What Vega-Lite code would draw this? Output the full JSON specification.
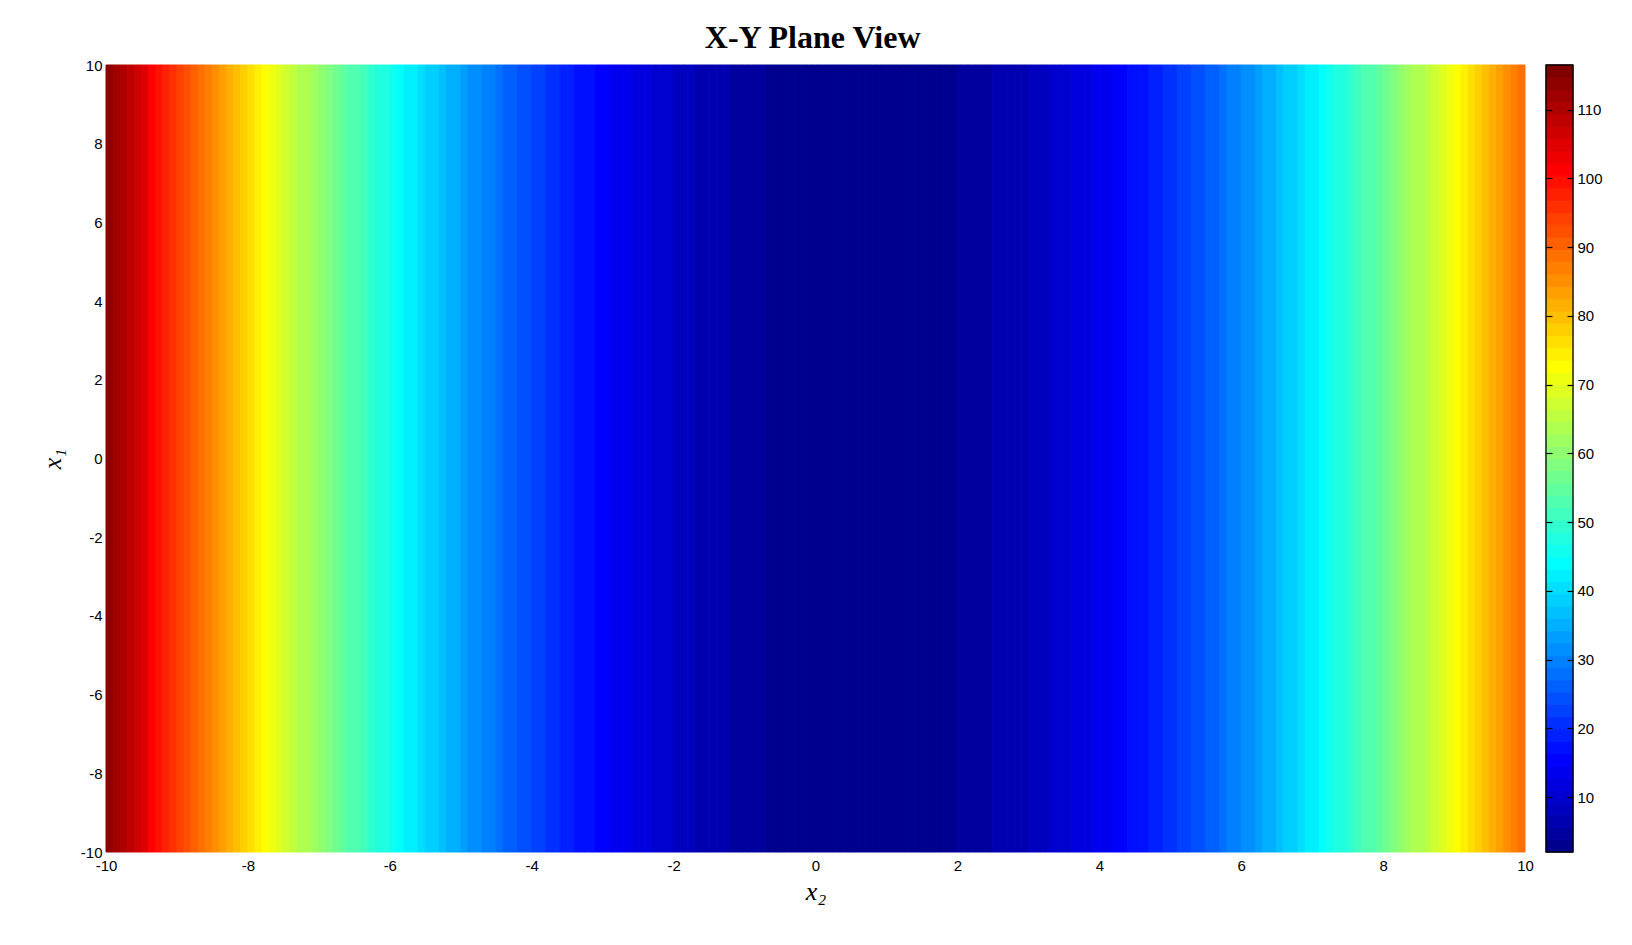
{
"$schema": "https://vega.github.io/schema/vega-lite/v6.json",
"background": "white",
"autosize": {"type": "pad"},
"padding": {"left": 39, "top": 22, "right": 5, "bottom": 5},
"title": {"text": "X-Y Plane View", "font": "Liberation Serif", "fontSize": 32, "fontWeight": "bold", "color": "black", "baseline": "alphabetic", "offset": -22, "anchor": "middle", "frame": "bounds", "dx": -8},
"config": {
  "view": {"stroke": null},
  "axis": {"labelFont": "Liberation Sans", "labelFontSize": 15, "labelColor": "black", "grid": false, "domain": false, "tickColor": "black"}
},
"datasets": {
"field": [
{"a":-10,"b":-9.9,"v":114.36},{"a":-9.9,"b":-9.8,"v":112.25},{"a":-9.8,"b":-9.7,"v":110.16},{"a":-9.7,"b":-9.6,"v":108.09},{"a":-9.6,"b":-9.5,"v":106.04},
{"a":-9.5,"b":-9.4,"v":104.01},{"a":-9.4,"b":-9.3,"v":102.0},{"a":-9.3,"b":-9.2,"v":100.01},{"a":-9.2,"b":-9.1,"v":98.04},{"a":-9.1,"b":-9,"v":96.09},
{"a":-9,"b":-8.9,"v":94.16},{"a":-8.9,"b":-8.8,"v":92.25},{"a":-8.8,"b":-8.7,"v":90.36},{"a":-8.7,"b":-8.6,"v":88.49},{"a":-8.6,"b":-8.5,"v":86.64},
{"a":-8.5,"b":-8.4,"v":84.81},{"a":-8.4,"b":-8.3,"v":83.0},{"a":-8.3,"b":-8.2,"v":81.21},{"a":-8.2,"b":-8.1,"v":79.44},{"a":-8.1,"b":-8,"v":77.69},
{"a":-8,"b":-7.9,"v":75.96},{"a":-7.9,"b":-7.8,"v":74.25},{"a":-7.8,"b":-7.7,"v":72.56},{"a":-7.7,"b":-7.6,"v":70.89},{"a":-7.6,"b":-7.5,"v":69.24},
{"a":-7.5,"b":-7.4,"v":67.61},{"a":-7.4,"b":-7.3,"v":66.0},{"a":-7.3,"b":-7.2,"v":64.41},{"a":-7.2,"b":-7.1,"v":62.84},{"a":-7.1,"b":-7,"v":61.29},
{"a":-7,"b":-6.9,"v":59.76},{"a":-6.9,"b":-6.8,"v":58.25},{"a":-6.8,"b":-6.7,"v":56.76},{"a":-6.7,"b":-6.6,"v":55.29},{"a":-6.6,"b":-6.5,"v":53.84},
{"a":-6.5,"b":-6.4,"v":52.41},{"a":-6.4,"b":-6.3,"v":51.0},{"a":-6.3,"b":-6.2,"v":49.61},{"a":-6.2,"b":-6.1,"v":48.24},{"a":-6.1,"b":-6,"v":46.89},
{"a":-6,"b":-5.9,"v":45.56},{"a":-5.9,"b":-5.8,"v":44.25},{"a":-5.8,"b":-5.7,"v":42.96},{"a":-5.7,"b":-5.6,"v":41.69},{"a":-5.6,"b":-5.5,"v":40.44},
{"a":-5.5,"b":-5.4,"v":39.21},{"a":-5.4,"b":-5.3,"v":38.0},{"a":-5.3,"b":-5.2,"v":36.81},{"a":-5.2,"b":-5.1,"v":35.64},{"a":-5.1,"b":-5,"v":34.49},
{"a":-5,"b":-4.9,"v":33.36},{"a":-4.9,"b":-4.8,"v":32.25},{"a":-4.8,"b":-4.7,"v":31.16},{"a":-4.7,"b":-4.6,"v":30.09},{"a":-4.6,"b":-4.5,"v":29.04},
{"a":-4.5,"b":-4.4,"v":28.01},{"a":-4.4,"b":-4.3,"v":27.0},{"a":-4.3,"b":-4.2,"v":26.01},{"a":-4.2,"b":-4.1,"v":25.04},{"a":-4.1,"b":-4,"v":24.09},
{"a":-4,"b":-3.9,"v":23.16},{"a":-3.9,"b":-3.8,"v":22.25},{"a":-3.8,"b":-3.7,"v":21.36},{"a":-3.7,"b":-3.6,"v":20.49},{"a":-3.6,"b":-3.5,"v":19.64},
{"a":-3.5,"b":-3.4,"v":18.81},{"a":-3.4,"b":-3.3,"v":18.0},{"a":-3.3,"b":-3.2,"v":17.21},{"a":-3.2,"b":-3.1,"v":16.44},{"a":-3.1,"b":-3,"v":15.69},
{"a":-3,"b":-2.9,"v":14.96},{"a":-2.9,"b":-2.8,"v":14.25},{"a":-2.8,"b":-2.7,"v":13.56},{"a":-2.7,"b":-2.6,"v":12.89},{"a":-2.6,"b":-2.5,"v":12.24},
{"a":-2.5,"b":-2.4,"v":11.61},{"a":-2.4,"b":-2.3,"v":11.0},{"a":-2.3,"b":-2.2,"v":10.41},{"a":-2.2,"b":-2.1,"v":9.84},{"a":-2.1,"b":-2,"v":9.29},
{"a":-2,"b":-1.9,"v":8.76},{"a":-1.9,"b":-1.8,"v":8.25},{"a":-1.8,"b":-1.7,"v":7.76},{"a":-1.7,"b":-1.6,"v":7.29},{"a":-1.6,"b":-1.5,"v":6.84},
{"a":-1.5,"b":-1.4,"v":6.41},{"a":-1.4,"b":-1.3,"v":6.0},{"a":-1.3,"b":-1.2,"v":5.61},{"a":-1.2,"b":-1.1,"v":5.24},{"a":-1.1,"b":-1,"v":4.89},
{"a":-1,"b":-0.9,"v":4.56},{"a":-0.9,"b":-0.8,"v":4.25},{"a":-0.8,"b":-0.7,"v":3.96},{"a":-0.7,"b":-0.6,"v":3.69},{"a":-0.6,"b":-0.5,"v":3.44},
{"a":-0.5,"b":-0.4,"v":3.21},{"a":-0.4,"b":-0.3,"v":3.0},{"a":-0.3,"b":-0.2,"v":2.81},{"a":-0.2,"b":-0.1,"v":2.64},{"a":-0.1,"b":0,"v":2.49},
{"a":0,"b":0.1,"v":2.36},{"a":0.1,"b":0.2,"v":2.25},{"a":0.2,"b":0.3,"v":2.16},{"a":0.3,"b":0.4,"v":2.09},{"a":0.4,"b":0.5,"v":2.04},
{"a":0.5,"b":0.6,"v":2.01},{"a":0.6,"b":0.7,"v":2.0},{"a":0.7,"b":0.8,"v":2.01},{"a":0.8,"b":0.9,"v":2.04},{"a":0.9,"b":1,"v":2.09},
{"a":1,"b":1.1,"v":2.16},{"a":1.1,"b":1.2,"v":2.25},{"a":1.2,"b":1.3,"v":2.36},{"a":1.3,"b":1.4,"v":2.49},{"a":1.4,"b":1.5,"v":2.64},
{"a":1.5,"b":1.6,"v":2.81},{"a":1.6,"b":1.7,"v":3.0},{"a":1.7,"b":1.8,"v":3.21},{"a":1.8,"b":1.9,"v":3.44},{"a":1.9,"b":2,"v":3.69},
{"a":2,"b":2.1,"v":3.96},{"a":2.1,"b":2.2,"v":4.25},{"a":2.2,"b":2.3,"v":4.56},{"a":2.3,"b":2.4,"v":4.89},{"a":2.4,"b":2.5,"v":5.24},
{"a":2.5,"b":2.6,"v":5.61},{"a":2.6,"b":2.7,"v":6.0},{"a":2.7,"b":2.8,"v":6.41},{"a":2.8,"b":2.9,"v":6.84},{"a":2.9,"b":3,"v":7.29},
{"a":3,"b":3.1,"v":7.76},{"a":3.1,"b":3.2,"v":8.25},{"a":3.2,"b":3.3,"v":8.76},{"a":3.3,"b":3.4,"v":9.29},{"a":3.4,"b":3.5,"v":9.84},
{"a":3.5,"b":3.6,"v":10.41},{"a":3.6,"b":3.7,"v":11.0},{"a":3.7,"b":3.8,"v":11.61},{"a":3.8,"b":3.9,"v":12.24},{"a":3.9,"b":4,"v":12.89},
{"a":4,"b":4.1,"v":13.56},{"a":4.1,"b":4.2,"v":14.25},{"a":4.2,"b":4.3,"v":14.96},{"a":4.3,"b":4.4,"v":15.69},{"a":4.4,"b":4.5,"v":16.44},
{"a":4.5,"b":4.6,"v":17.21},{"a":4.6,"b":4.7,"v":18.0},{"a":4.7,"b":4.8,"v":18.81},{"a":4.8,"b":4.9,"v":19.64},{"a":4.9,"b":5,"v":20.49},
{"a":5,"b":5.1,"v":21.36},{"a":5.1,"b":5.2,"v":22.25},{"a":5.2,"b":5.3,"v":23.16},{"a":5.3,"b":5.4,"v":24.09},{"a":5.4,"b":5.5,"v":25.04},
{"a":5.5,"b":5.6,"v":26.01},{"a":5.6,"b":5.7,"v":27.0},{"a":5.7,"b":5.8,"v":28.01},{"a":5.8,"b":5.9,"v":29.04},{"a":5.9,"b":6,"v":30.09},
{"a":6,"b":6.1,"v":31.16},{"a":6.1,"b":6.2,"v":32.25},{"a":6.2,"b":6.3,"v":33.36},{"a":6.3,"b":6.4,"v":34.49},{"a":6.4,"b":6.5,"v":35.64},
{"a":6.5,"b":6.6,"v":36.81},{"a":6.6,"b":6.7,"v":38.0},{"a":6.7,"b":6.8,"v":39.21},{"a":6.8,"b":6.9,"v":40.44},{"a":6.9,"b":7,"v":41.69},
{"a":7,"b":7.1,"v":42.96},{"a":7.1,"b":7.2,"v":44.25},{"a":7.2,"b":7.3,"v":45.56},{"a":7.3,"b":7.4,"v":46.89},{"a":7.4,"b":7.5,"v":48.24},
{"a":7.5,"b":7.6,"v":49.61},{"a":7.6,"b":7.7,"v":51.0},{"a":7.7,"b":7.8,"v":52.41},{"a":7.8,"b":7.9,"v":53.84},{"a":7.9,"b":8,"v":55.29},
{"a":8,"b":8.1,"v":56.76},{"a":8.1,"b":8.2,"v":58.25},{"a":8.2,"b":8.3,"v":59.76},{"a":8.3,"b":8.4,"v":61.29},{"a":8.4,"b":8.5,"v":62.84},
{"a":8.5,"b":8.6,"v":64.41},{"a":8.6,"b":8.7,"v":66.0},{"a":8.7,"b":8.8,"v":67.61},{"a":8.8,"b":8.9,"v":69.24},{"a":8.9,"b":9,"v":70.89},
{"a":9,"b":9.1,"v":72.56},{"a":9.1,"b":9.2,"v":74.25},{"a":9.2,"b":9.3,"v":75.96},{"a":9.3,"b":9.4,"v":77.69},{"a":9.4,"b":9.5,"v":79.44},
{"a":9.5,"b":9.6,"v":81.21},{"a":9.6,"b":9.7,"v":83.0},{"a":9.7,"b":9.8,"v":84.81},{"a":9.8,"b":9.9,"v":86.64},{"a":9.9,"b":10,"v":88.49}
],
"cbar": [
{"lo":2,"hi":3.789,"m":2.895},{"lo":3.789,"hi":5.578,"m":4.684},{"lo":5.578,"hi":7.367,"m":6.473},{"lo":7.367,"hi":9.156,"m":8.262},
{"lo":9.156,"hi":10.945,"m":10.051},{"lo":10.945,"hi":12.734,"m":11.84},{"lo":12.734,"hi":14.523,"m":13.629},{"lo":14.523,"hi":16.313,"m":15.418},
{"lo":16.313,"hi":18.102,"m":17.207},{"lo":18.102,"hi":19.891,"m":18.996},{"lo":19.891,"hi":21.68,"m":20.785},{"lo":21.68,"hi":23.469,"m":22.574},
{"lo":23.469,"hi":25.258,"m":24.363},{"lo":25.258,"hi":27.047,"m":26.152},{"lo":27.047,"hi":28.836,"m":27.941},{"lo":28.836,"hi":30.625,"m":29.73},
{"lo":30.625,"hi":32.414,"m":31.52},{"lo":32.414,"hi":34.203,"m":33.309},{"lo":34.203,"hi":35.992,"m":35.098},{"lo":35.992,"hi":37.781,"m":36.887},
{"lo":37.781,"hi":39.57,"m":38.676},{"lo":39.57,"hi":41.359,"m":40.465},{"lo":41.359,"hi":43.148,"m":42.254},{"lo":43.148,"hi":44.938,"m":44.043},
{"lo":44.938,"hi":46.727,"m":45.832},{"lo":46.727,"hi":48.516,"m":47.621},{"lo":48.516,"hi":50.305,"m":49.41},{"lo":50.305,"hi":52.094,"m":51.199},
{"lo":52.094,"hi":53.883,"m":52.988},{"lo":53.883,"hi":55.672,"m":54.777},{"lo":55.672,"hi":57.461,"m":56.566},{"lo":57.461,"hi":59.25,"m":58.355},
{"lo":59.25,"hi":61.039,"m":60.145},{"lo":61.039,"hi":62.828,"m":61.934},{"lo":62.828,"hi":64.617,"m":63.723},{"lo":64.617,"hi":66.406,"m":65.512},
{"lo":66.406,"hi":68.195,"m":67.301},{"lo":68.195,"hi":69.984,"m":69.09},{"lo":69.984,"hi":71.773,"m":70.879},{"lo":71.773,"hi":73.563,"m":72.668},
{"lo":73.563,"hi":75.352,"m":74.457},{"lo":75.352,"hi":77.141,"m":76.246},{"lo":77.141,"hi":78.93,"m":78.035},{"lo":78.93,"hi":80.719,"m":79.824},
{"lo":80.719,"hi":82.508,"m":81.613},{"lo":82.508,"hi":84.297,"m":83.402},{"lo":84.297,"hi":86.086,"m":85.191},{"lo":86.086,"hi":87.875,"m":86.98},
{"lo":87.875,"hi":89.664,"m":88.77},{"lo":89.664,"hi":91.453,"m":90.559},{"lo":91.453,"hi":93.242,"m":92.348},{"lo":93.242,"hi":95.031,"m":94.137},
{"lo":95.031,"hi":96.82,"m":95.926},{"lo":96.82,"hi":98.609,"m":97.715},{"lo":98.609,"hi":100.398,"m":99.504},{"lo":100.398,"hi":102.188,"m":101.293},
{"lo":102.188,"hi":103.977,"m":103.082},{"lo":103.977,"hi":105.766,"m":104.871},{"lo":105.766,"hi":107.555,"m":106.66},{"lo":107.555,"hi":109.344,"m":108.449},
{"lo":109.344,"hi":111.133,"m":110.238},{"lo":111.133,"hi":112.922,"m":112.027},{"lo":112.922,"hi":114.711,"m":113.816},{"lo":114.711,"hi":116.5,"m":115.605}
]
},
"hconcat": [
{
  "width": 1419,
  "height": 787,
  "data": {"name": "field"},
  "mark": {"type": "rect", "strokeWidth": 1},
  "encoding": {
    "x": {"field": "a", "type": "quantitative", "scale": {"domain": [-10, 10], "nice": false, "zero": false},
          "axis": {"values": [-10,-8,-6,-4,-2,0,2,4,6,8,10], "labelExpr": "replace(datum.label, '−', '-')", "ticks": false, "tickSize": 0, "labelPadding": 6, "labelFlush": false, "labelOverlap": false,
                   "title": "x₂", "titleFont": "Liberation Serif", "titleFontStyle": "italic", "titleFontWeight": "normal", "titleFontSize": 26, "titleColor": "black", "titlePadding": 5}},
    "x2": {"field": "b"},
    "y": {"datum": -10, "type": "quantitative", "scale": {"domain": [-10, 10], "nice": false, "zero": false},
          "axis": {"values": [-10,-8,-6,-4,-2,0,2,4,6,8,10], "labelExpr": "replace(datum.label, '−', '-')", "ticks": false, "tickSize": 0, "labelPadding": 4, "labelFlush": false, "labelOverlap": false,
                   "title": "x₁", "titleFont": "Liberation Serif", "titleFontStyle": "italic", "titleFontWeight": "normal", "titleFontSize": 26, "titleColor": "black", "titlePadding": 15}},
    "y2": {"datum": 10},
    "color": {"field": "v", "type": "quantitative", "legend": null,
              "scale": {"type": "quantize", "domain": [2, 116.5], "nice": false, "zero": false,
                        "range": ["#00008F","#00009F","#0000AF","#0000BF","#0000CF","#0000DF","#0000EF","#0000FF","#0010FF","#0020FF","#0030FF","#0040FF","#0050FF","#0060FF","#0070FF","#0080FF","#008FFF","#009FFF","#00AFFF","#00BFFF","#00CFFF","#00DFFF","#00EFFF","#00FFFF","#10FFEF","#20FFDF","#30FFCF","#40FFBF","#50FFAF","#60FF9F","#70FF8F","#80FF80","#8FFF70","#9FFF60","#AFFF50","#BFFF40","#CFFF30","#DFFF20","#EFFF10","#FFFF00","#FFEF00","#FFDF00","#FFCF00","#FFBF00","#FFAF00","#FF9F00","#FF8F00","#FF8000","#FF7000","#FF6000","#FF5000","#FF4000","#FF3000","#FF2000","#FF1000","#FF0000","#EF0000","#DF0000","#CF0000","#BF0000","#AF0000","#9F0000","#8F0000","#800000"]}},
    "stroke": {"field": "v", "type": "quantitative", "legend": null,
              "scale": {"type": "quantize", "domain": [2, 116.5], "nice": false, "zero": false,
                        "range": ["#00008F","#00009F","#0000AF","#0000BF","#0000CF","#0000DF","#0000EF","#0000FF","#0010FF","#0020FF","#0030FF","#0040FF","#0050FF","#0060FF","#0070FF","#0080FF","#008FFF","#009FFF","#00AFFF","#00BFFF","#00CFFF","#00DFFF","#00EFFF","#00FFFF","#10FFEF","#20FFDF","#30FFCF","#40FFBF","#50FFAF","#60FF9F","#70FF8F","#80FF80","#8FFF70","#9FFF60","#AFFF50","#BFFF40","#CFFF30","#DFFF20","#EFFF10","#FFFF00","#FFEF00","#FFDF00","#FFCF00","#FFBF00","#FFAF00","#FF9F00","#FF8F00","#FF8000","#FF7000","#FF6000","#FF5000","#FF4000","#FF3000","#FF2000","#FF1000","#FF0000","#EF0000","#DF0000","#CF0000","#BF0000","#AF0000","#9F0000","#8F0000","#800000"]}}
  }
},
{
  "width": 27,
  "height": 787,
  "layer": [
    {
      "data": {"name": "cbar"},
      "mark": {"type": "rect", "strokeWidth": 1},
      "encoding": {
        "x": {"datum": 0, "type": "quantitative", "scale": {"domain": [0, 1], "nice": false, "zero": false}, "axis": null},
        "x2": {"datum": 1},
        "y": {"field": "lo", "type": "quantitative", "scale": {"domain": [2, 116.5], "nice": false, "zero": false},
              "axis": {"orient": "right", "zindex": 1, "values": [10,20,30,40,50,60,70,80,90,100,110], "ticks": true, "tickSize": 6, "tickWidth": 1.2, "offset": -6, "labelPadding": 4, "labelFlush": false, "labelOverlap": false, "title": null}},
        "y2": {"field": "hi"},
        "color": {"field": "m", "type": "quantitative", "legend": null,
              "scale": {"type": "quantize", "domain": [2, 116.5], "nice": false, "zero": false,
                        "range": ["#00008F","#00009F","#0000AF","#0000BF","#0000CF","#0000DF","#0000EF","#0000FF","#0010FF","#0020FF","#0030FF","#0040FF","#0050FF","#0060FF","#0070FF","#0080FF","#008FFF","#009FFF","#00AFFF","#00BFFF","#00CFFF","#00DFFF","#00EFFF","#00FFFF","#10FFEF","#20FFDF","#30FFCF","#40FFBF","#50FFAF","#60FF9F","#70FF8F","#80FF80","#8FFF70","#9FFF60","#AFFF50","#BFFF40","#CFFF30","#DFFF20","#EFFF10","#FFFF00","#FFEF00","#FFDF00","#FFCF00","#FFBF00","#FFAF00","#FF9F00","#FF8F00","#FF8000","#FF7000","#FF6000","#FF5000","#FF4000","#FF3000","#FF2000","#FF1000","#FF0000","#EF0000","#DF0000","#CF0000","#BF0000","#AF0000","#9F0000","#8F0000","#800000"]}},
        "stroke": {"field": "m", "type": "quantitative", "legend": null,
              "scale": {"type": "quantize", "domain": [2, 116.5], "nice": false, "zero": false,
                        "range": ["#00008F","#00009F","#0000AF","#0000BF","#0000CF","#0000DF","#0000EF","#0000FF","#0010FF","#0020FF","#0030FF","#0040FF","#0050FF","#0060FF","#0070FF","#0080FF","#008FFF","#009FFF","#00AFFF","#00BFFF","#00CFFF","#00DFFF","#00EFFF","#00FFFF","#10FFEF","#20FFDF","#30FFCF","#40FFBF","#50FFAF","#60FF9F","#70FF8F","#80FF80","#8FFF70","#9FFF60","#AFFF50","#BFFF40","#CFFF30","#DFFF20","#EFFF10","#FFFF00","#FFEF00","#FFDF00","#FFCF00","#FFBF00","#FFAF00","#FF9F00","#FF8F00","#FF8000","#FF7000","#FF6000","#FF5000","#FF4000","#FF3000","#FF2000","#FF1000","#FF0000","#EF0000","#DF0000","#CF0000","#BF0000","#AF0000","#9F0000","#8F0000","#800000"]}}
      }
    },
    {
      "data": {"values": [{"lo": 2, "hi": 116.5}]},
      "mark": {"type": "rect", "filled": false, "stroke": "black", "strokeWidth": 1.3},
      "encoding": {
        "x": {"datum": 0, "type": "quantitative"},
        "x2": {"datum": 1},
        "y": {"field": "lo", "type": "quantitative",
              "axis": {"orient": "left", "zindex": 1, "values": [10,20,30,40,50,60,70,80,90,100,110], "labels": false, "ticks": true, "tickSize": 6, "tickWidth": 1.2, "offset": -6, "title": null}},
        "y2": {"field": "hi"}
      }
    }
  ],
  "resolve": {"axis": {"y": "independent"}}
}
],
"spacing": 21,
"bounds": "flush"
}
